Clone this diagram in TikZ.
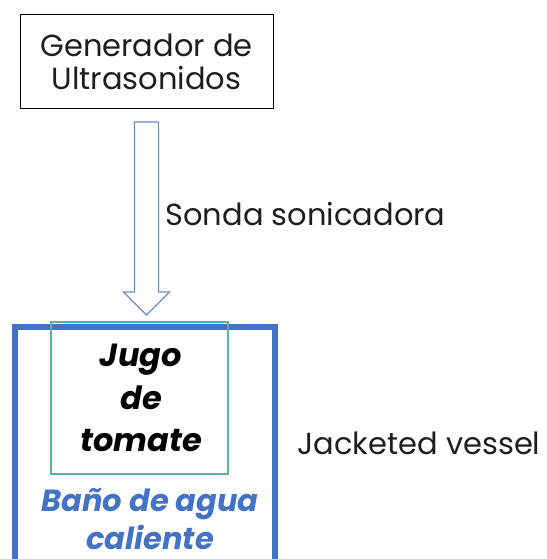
\documentclass[tikz,border=0pt]{standalone}
\usepackage{fontspec}
\setmainfont{Poppins}
\usepackage{xcolor}
\definecolor{Vessel-blue}{RGB}{68, 114, 196}
\definecolor{Juice-green}{RGB}{91, 178, 156}
\definecolor{Probe-blue}{RGB}{112, 140, 196}
\definecolor{Text-dark}{RGB}{30, 30, 30}
\usetikzlibrary{shapes.arrows,positioning}

\begin{document}
\begin{tikzpicture} [ % estilos de cada elemento
    x=1pt, y=-1pt, >=stealth,
    genbox/.style = {shape = rectangle, draw = black, line width = 1pt, minimum height = 94pt, minimum width = 253pt, align = center, text = Text-dark, font = \fontsize{30.5}{33}\selectfont},
    probe/.style = {single arrow, draw = Probe-blue, fill = white, line width = 1.2pt, rotate = -90, minimum height = 193pt, minimum width = 45pt, single arrow head extend = 11pt, inner xsep = 0pt, inner ysep = 11.5pt},
    juicebox/.style = {shape = rectangle, draw = Juice-green, line width = 2pt, minimum height = 152pt, minimum width = 177pt},
    vessel/.style = {shape = rectangle, draw = Vessel-blue, line width = 6pt, minimum height = 260pt, minimum width = 260pt},
    label/.style = {shape = rectangle, align = left, text = Text-dark, font = \fontsize{30.5}{33}\selectfont},
    juicetext/.style = {align = center, font = \fontsize{32}{42.5}\selectfont\bfseries\itshape},
    bathtext/.style = {align = center, text = Vessel-blue, font = \fontsize{30.5}{38}\selectfont\bfseries\itshape}
]

\useasboundingbox (0,0) rectangle (546,559);

% generador
\node [genbox] (gen) at (146.5,62){Generador de\\Ultrasonidos};

% sonda
\node [probe] (sonda) at (146.5,212.5){};
\node [label, anchor = west] (sondatex) at (162,214){Sonda sonicadora};

% recipientes
\node [vessel] (bath) at (145,457){};
\node [juicebox] (juice) at (139.5,398){};

% textos
\node [juicetext] (juicetex) at (141,398){Jugo\\de\\tomate};
\node [bathtext] (bathtex) at (150,519){Baño de agua\\caliente};
\node [label, anchor = west] (vesseltex) at (294,443){Jacketed vessel};

\end{tikzpicture}
\end{document}
